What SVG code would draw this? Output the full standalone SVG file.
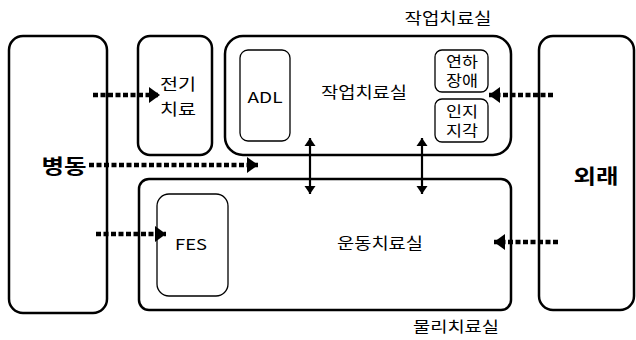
<svg xmlns="http://www.w3.org/2000/svg" width="636" height="340" viewBox="0 0 636 340">
<style>
.box{fill:#fff;stroke:#000;stroke-width:2.5}
.inner{fill:#fff;stroke:#000;stroke-width:1.3}
.t{font-family:"Noto Sans CJK KR","Liberation Sans",sans-serif;fill:#000;text-anchor:middle}
.b{font-weight:bold;font-size:20px}
.dot{stroke:#000;stroke-width:4.5;stroke-dasharray:5 2.5;fill:none}
.solid{stroke:#000;stroke-width:2.2;fill:none}
</style>
<defs>
<marker id="big" markerUnits="userSpaceOnUse" markerWidth="12" markerHeight="16" refX="11" refY="8" orient="auto"><path d="M0,0 L11,8 L0,16 Z" fill="#000"/></marker>
<marker id="sm" markerUnits="userSpaceOnUse" markerWidth="12" markerHeight="12" refX="8" refY="6" orient="auto-start-reverse"><path d="M0,0.5 L8,6 L0,11.5 Z" fill="#000"/></marker>
</defs>
<g id="ward"><rect class="box" x="9" y="36" width="98" height="277" rx="14"/><text class="t b" x="64" y="174" textLength="45" lengthAdjust="spacingAndGlyphs">병동</text></g>
<g id="estim"><rect class="box" x="138" y="36" width="74" height="119" rx="12"/><text class="t" x="178" y="90" font-size="16" textLength="36" lengthAdjust="spacingAndGlyphs">전기</text><text class="t" x="178" y="115" font-size="16" textLength="36" lengthAdjust="spacingAndGlyphs">치료</text></g>
<g id="ot"><rect class="box" x="225" y="36" width="286" height="119" rx="18"/><text class="t" x="364" y="98" font-size="16" textLength="86" lengthAdjust="spacingAndGlyphs">작업치료실</text></g>
<g id="ot-title"><text class="t" x="448" y="24" font-size="16" textLength="87" lengthAdjust="spacingAndGlyphs">작업치료실</text></g>
<g id="adl"><rect class="inner" x="240" y="50" width="50" height="91" rx="8"/><text class="t" x="265" y="103" font-size="15" textLength="35" lengthAdjust="spacingAndGlyphs">ADL</text></g>
<g id="dysphagia"><rect class="inner" x="435" y="50" width="53" height="42" rx="7"/><text class="t" x="462" y="67" font-size="15" textLength="32" lengthAdjust="spacingAndGlyphs">연하</text><text class="t" x="462" y="86" font-size="15" textLength="32" lengthAdjust="spacingAndGlyphs">장애</text></g>
<g id="cognition"><rect class="inner" x="435" y="99" width="53" height="43" rx="7"/><text class="t" x="462" y="117" font-size="15" textLength="32" lengthAdjust="spacingAndGlyphs">인지</text><text class="t" x="462" y="136" font-size="15" textLength="32" lengthAdjust="spacingAndGlyphs">지각</text></g>
<g id="outpatient"><rect class="box" x="539" y="36" width="95" height="274" rx="14"/><text class="t b" x="596" y="184" textLength="45" lengthAdjust="spacingAndGlyphs">외래</text></g>
<g id="pt"><rect class="box" x="139" y="179" width="372" height="131" rx="10"/><text class="t" x="380" y="249" font-size="16" textLength="86" lengthAdjust="spacingAndGlyphs">운동치료실</text></g>
<g id="pt-title"><text class="t" x="456" y="332" font-size="15" textLength="86" lengthAdjust="spacingAndGlyphs">물리치료실</text></g>
<g id="fes"><rect class="inner" x="157" y="194" width="71" height="102" rx="12"/><text class="t" x="191" y="250" font-size="15" textLength="32" lengthAdjust="spacingAndGlyphs">FES</text></g>
<g id="connectors">
<line class="dot" x1="93" y1="95" x2="160" y2="95" marker-end="url(#big)"/>
<line class="dot" x1="89" y1="165" x2="258" y2="165" marker-end="url(#big)"/>
<line class="dot" x1="96" y1="234" x2="166" y2="234" marker-end="url(#big)"/>
<line class="dot" x1="553" y1="95" x2="489" y2="95" marker-end="url(#big)"/>
<line class="dot" x1="558" y1="242" x2="494" y2="242" marker-end="url(#big)"/>
<line class="solid" x1="310" y1="138" x2="310" y2="194" marker-start="url(#sm)" marker-end="url(#sm)"/>
<line class="solid" x1="422" y1="138" x2="422" y2="194" marker-start="url(#sm)" marker-end="url(#sm)"/>
</g>
</svg>
